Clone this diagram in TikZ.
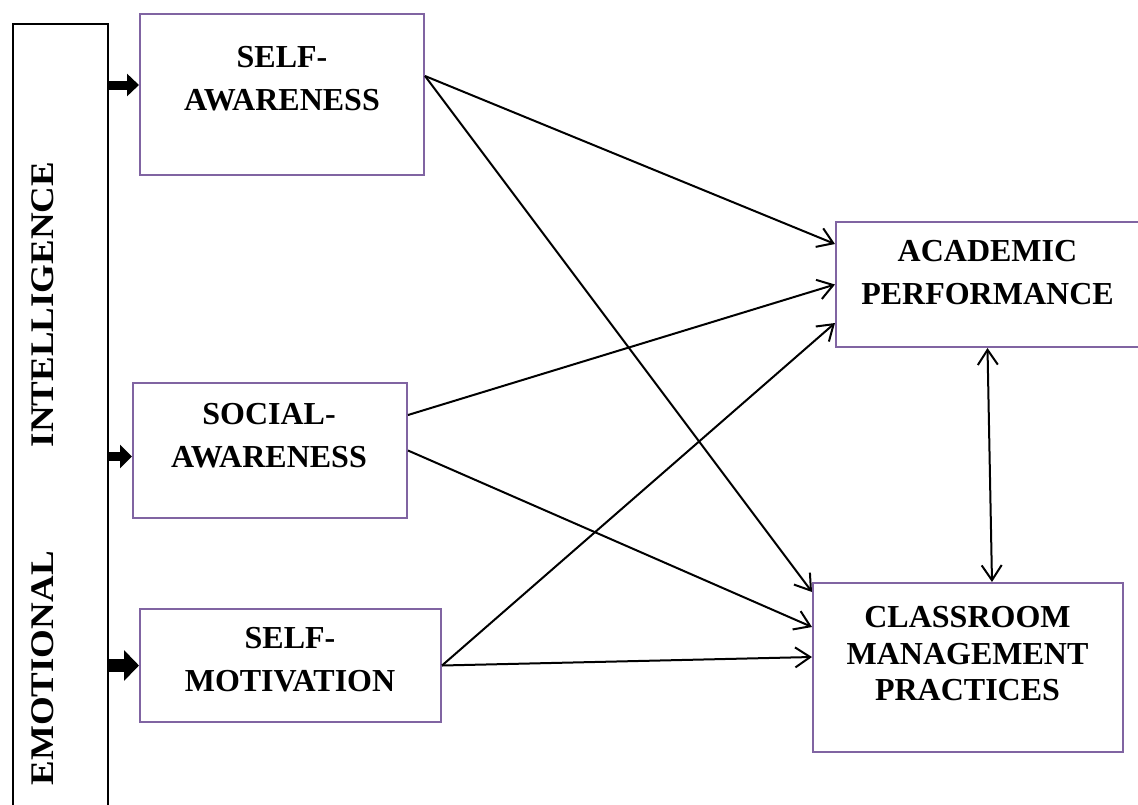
\documentclass[tikz,border=0pt]{standalone}
\usepackage{fontspec}
\setmainfont{Liberation Serif}
\usetikzlibrary{arrows.meta}
\definecolor{boxpurple}{RGB}{128,100,162}
\tikzset{
  pbox/.style={draw=boxpurple, line width=2pt, inner sep=0pt},
  lbl/.style={align=center, inner sep=0pt, font={\fontsize{32}{43}\selectfont\bfseries}},
  arr/.style={line width=2pt, -{Straight Barb[length=15pt,width=20pt,line width=2pt]}},
  darr/.style={line width=2pt, {Straight Barb[length=15pt,width=20pt,line width=2pt]}-{Straight Barb[length=15pt,width=20pt,line width=2pt]}},
}
\begin{document}
\begin{tikzpicture}[x=1pt,y=-1pt]
\useasboundingbox (0,0) rectangle (1138,804);
% left column
\node[draw, line width=2pt, inner sep=0pt, minimum width=95pt, minimum height=790pt, anchor=north west] (ei) at (12,23) {};
\node[rotate=90, inner sep=0pt] (eit) at (43,473.5)
  {\scalebox{1.12}[1]{\fontsize{33}{40}\selectfont\bfseries EMOTIONAL\hspace{92.9pt}INTELLIGENCE}};
% boxes
\node[pbox, minimum width=284pt, minimum height=161pt] (sa) at (282,94.5) {};
\node[pbox, minimum width=274pt, minimum height=135pt] (soc) at (270,450.5) {};
\node[pbox, minimum width=301pt, minimum height=113pt] (sm) at (290.5,665.5) {};
\node[pbox, minimum width=303pt, minimum height=125pt] (ap) at (987.5,284.5) {};
\node[pbox, minimum width=310pt, minimum height=169pt] (cmp) at (968,667.5) {};
% labels
\node[lbl] (sat) at (282,79) {SELF-\\AWARENESS};
\node[lbl] (soct) at (269,435.75) {SOCIAL-\\AWARENESS};
\node[lbl] (smt) at (290,659.75) {SELF-\\MOTIVATION};
\node[lbl] (apt) at (987.5,272.5) {ACADEMIC\\PERFORMANCE};
\node[lbl, font={\fontsize{32}{36.25}\selectfont\bfseries}] (cmpt) at (967.5,653.75) {CLASSROOM\\MANAGEMENT\\PRACTICES};
% block arrows
\draw[line width=9pt, -{Triangle[length=12pt,width=22pt]}] ([yshift=9.5pt]sa.west -| ei.east) -- ([yshift=9.5pt]sa.west);
\draw[line width=9pt, -{Triangle[length=12pt,width=23pt]}] ([yshift=-6pt]soc.west -| ei.east) -- ([yshift=-6pt]soc.west);
\draw[line width=13pt, -{Triangle[length=15pt,width=30pt]}] (sm.west -| ei.east) -- (sm.west);
% connectors
\draw[arr] ([yshift=18.5pt]sa.east) -- ([yshift=40.5pt]ap.west);
\draw[arr] ([yshift=18.5pt]sa.east) -- ([yshift=75.5pt]cmp.west);
\draw[arr] ([yshift=35.5pt]soc.east) -- (ap.west);
\draw[arr] (soc.east) -- ([yshift=40.5pt]cmp.west);
\draw[arr] (sm.east) -- ([yshift=-38.5pt]ap.west);
\draw[arr] (sm.east) -- ([yshift=10.5pt]cmp.west);
\draw[darr] (ap.south) -- ([xshift=24pt]cmp.north);
\end{tikzpicture}
\end{document}
